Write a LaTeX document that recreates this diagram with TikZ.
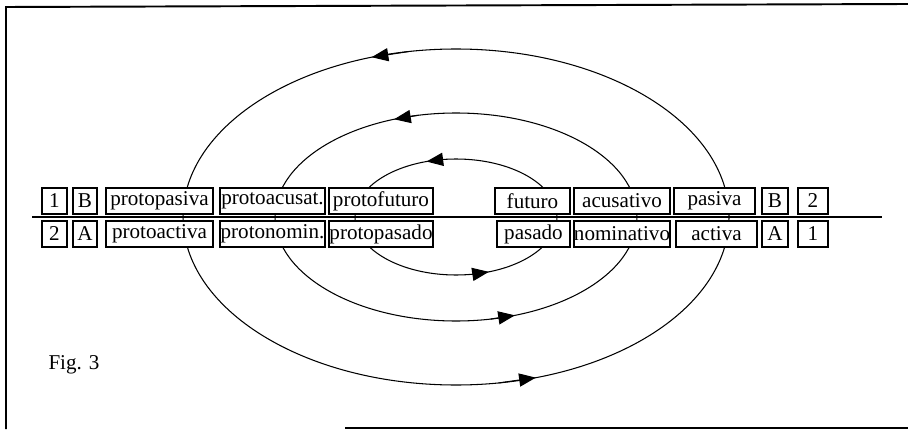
\documentclass[tikz,border=0pt]{standalone}
\usepackage{fontspec}
\setmainfont{Liberation Serif}
\usetikzlibrary{arrows.meta,calc}

\tikzset{
    frame line/.style={line width=1.1pt},
    orbit/.style={line width=0.6pt},
    orbit head/.style={-{Triangle[length=9.5pt,width=7.5pt]}},
    case box/.style={draw, fill=white, line width=0.7pt},
    case text/.style={pos=0.5, inner sep=0pt, font=\fontsize{12}{13}\selectfont}
}

\begin{document}
\begin{tikzpicture}[x=0.2mm, y=0.2mm]

    \useasboundingbox (0,0) rectangle (908,429);

    \coordinate (frame bottom) at (6,0);
    \coordinate (frame corner) at (6,422);
    \coordinate (frame right)  at (908,425);
    \coordinate (rule left)    at (345,1);
    \coordinate (rule right)   at (908,1);

    \draw[frame line] (frame bottom) -- (frame corner) -- (frame right);
    \draw[line width=0.8pt] (rule left) -- (rule right);

    \coordinate (centre)     at (456,212);
    \coordinate (axis left)  at (32,212);
    \coordinate (axis right) at (882,212);

    \foreach \a/\b/\up/\down in {273/168/108/287, 181/104/110/289, 101/58/107/289} {
        \draw[orbit] (centre) ellipse [x radius=\a, y radius=\b];
        \draw[orbit, orbit head] ($(centre)+({\a*cos(\up-8)},{\b*sin(\up-8)})$)
            -- ($(centre)+({\a*cos(\up)},{\b*sin(\up)})$);
        \draw[orbit, orbit head] ($(centre)+({\a*cos(\down-8)},{\b*sin(\down-8)})$)
            -- ($(centre)+({\a*cos(\down)},{\b*sin(\down)})$);
    }

    \draw[line width=0.6pt] (axis left) -- (axis right);

    \foreach \l/\r/\t [count=\i] in {42/67/1, 73/97/B, 106/213/protopasiva,
        220/325/protoacusat., 329/433/protofuturo, 495/570/futuro,
        574/670/acusativo, 674/755/pasiva, 762/788/B, 798/828/2}
    \draw[case box] (\l,215) rectangle node[case text] (top case \i) {\t} (\r,241);

    \foreach \l/\r/\t [count=\i] in {42/67/2, 73/97/A, 106/213/protoactiva,
        220/325/protonomin., 329/433/protopasado, 497/570/pasado,
        574/670/nominativo, 676/757/activa, 762/788/A, 798/828/1}
    \draw[case box] (\l,182) rectangle node[case text] (bottom case \i) {\t} (\r,208);

    \node[font=\fontsize{12}{13}\selectfont] (caption) at (74,64) {Fig. 3};
\end{tikzpicture}
\end{document}
